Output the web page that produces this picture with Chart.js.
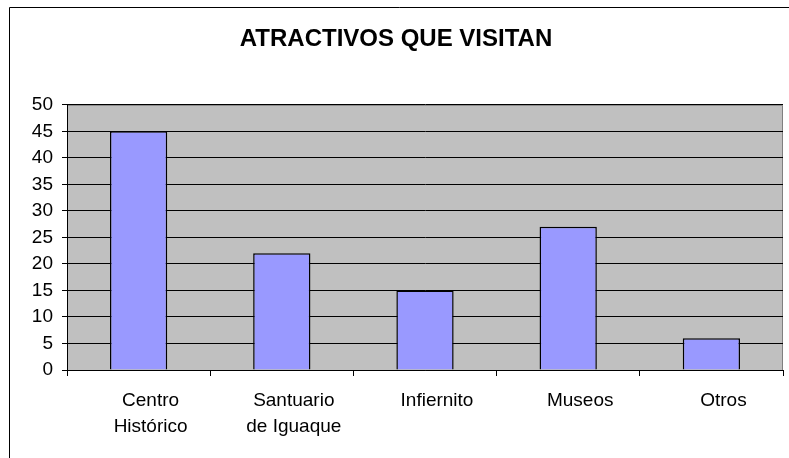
<!DOCTYPE html>
<html>
<head>
<meta charset="utf-8">
<script src="https://cdn.jsdelivr.net/npm/chart.js@4"></script>
<style>
  html, body { margin: 0; padding: 0; background: #fff; }
  #wrap { width: 789px; height: 458px; position: relative; }
</style>
</head>
<body>
<div id="wrap"><canvas id="chart" width="789" height="458"></canvas></div>
<script>
// datos del gráfico
const categorias = [['Centro', 'Histórico'], ['Santuario', 'de Iguaque'], 'Infiernito', 'Museos', 'Otros'];
const visitas = [45, 22, 15, 27, 6];
const titulo = 'ATRACTIVOS QUE VISITAN';

const FUENTE = '"Liberation Sans", Arial, sans-serif';

// fondo gris del área de trazado y marco exterior (estilo Excel)
const fondoExcel = {
    id: 'fondoExcel',
    beforeDraw(chart) {
        const { ctx, chartArea: a } = chart;
        ctx.save();
        ctx.fillStyle = '#ffffff';
        ctx.fillRect(0, 0, chart.width, chart.height);
        // marco exterior
        ctx.strokeStyle = '#000000';
        ctx.lineWidth = 1;
        ctx.beginPath();
        ctx.moveTo(9.5, chart.height);
        ctx.lineTo(9.5, 7.5);
        ctx.lineTo(chart.width, 7.5);
        ctx.stroke();
        // área de trazado
        ctx.fillStyle = '#c0c0c0';
        ctx.fillRect(a.left, a.top, a.right - a.left, a.bottom - a.top);
        ctx.strokeStyle = '#808080';
        ctx.beginPath();
        ctx.moveTo(a.left, a.top + 0.5);
        ctx.lineTo(a.right - 0.5, a.top + 0.5);
        ctx.lineTo(a.right - 0.5, a.bottom);
        ctx.stroke();
        ctx.restore();
    }
};

new Chart(document.getElementById('chart'), {
    type: 'bar',
    data: {
        labels: categorias,
        datasets: [{
            data: visitas,
            backgroundColor: '#9999ff',
            borderColor: '#000000',
            borderWidth: 1.5,
            barPercentage: 0.4,
            categoryPercentage: 1.0
        }]
    },
    options: {
        responsive: false,
        animation: false,
        layout: { padding: { left: 9, right: 6, top: 0, bottom: 0 } },
        plugins: {
            legend: { display: false },
            tooltip: { enabled: false },
            title: {
                display: true,
                text: titulo,
                color: '#000000',
                font: { family: FUENTE, size: 24, weight: 'bold', lineHeight: 1.2 },
                padding: { top: 25, bottom: 51 }
            }
        },
        scales: {
            x: {
                afterFit: (s) => { s.height = 88; },
                grid: {
                    offset: true,
                    drawOnChartArea: false,
                    color: '#000000',
                    tickLength: 6,
                    tickColor: '#000000'
                },
                border: { color: '#000000', width: 1 },
                ticks: {
                    color: '#000000',
                    font: { family: FUENTE, size: 19, lineHeight: 1.35 },
                    padding: 12,
                    maxRotation: 0,
                    autoSkip: false,
                    labelOffset: 12
                }
            },
            y: {
                min: 0,
                max: 50,
                afterFit: (s) => { s.width = 58; },
                grid: {
                    color: '#000000',
                    lineWidth: 1,
                    tickLength: 5,
                    tickColor: '#000000'
                },
                border: { color: '#000000', width: 1 },
                ticks: {
                    stepSize: 5,
                    color: '#000000',
                    font: { family: FUENTE, size: 19 },
                    padding: 9
                }
            }
        }
    },
    plugins: [fondoExcel]
});
</script>
</body>
</html>
